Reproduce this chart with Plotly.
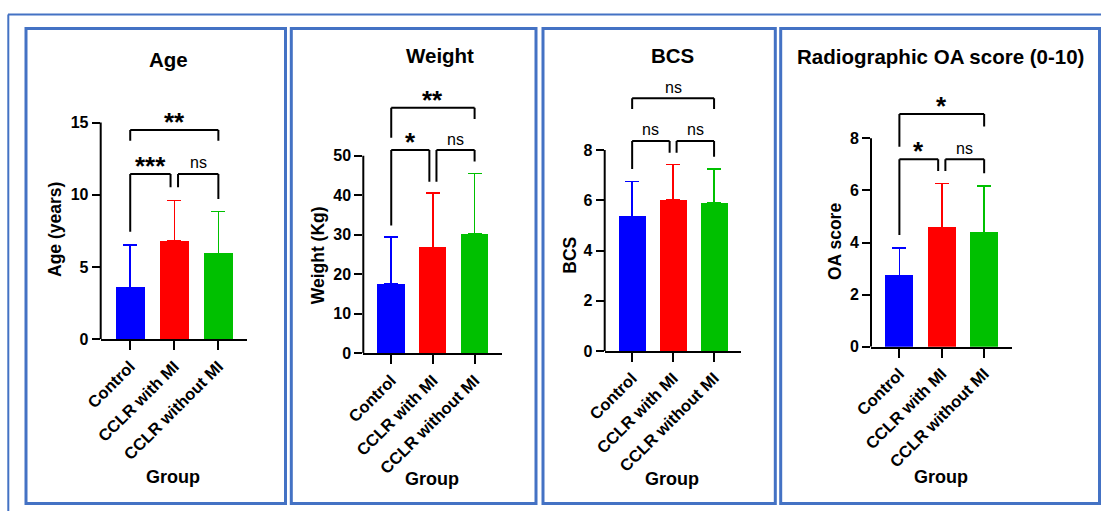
import plotly.graph_objects as go

W, H = 1101, 511

# ---------------- data ----------------
groups = ["Control", "CCLR with MI", "CCLR without MI"]

age_mean = [3.6, 6.8, 5.95]
age_sd = [2.93, 2.82, 2.88]
age_ticks = [0, 5, 10, 15]
age_sig = ["***", "ns", "**"]

weight_mean = [17.6, 26.8, 30.2]
weight_sd = [11.8, 13.8, 15.3]
weight_ticks = [0, 10, 20, 30, 40, 50]
weight_sig = ["*", "ns", "**"]

bcs_mean = [5.36, 6.01, 5.89]
bcs_sd = [1.38, 1.42, 1.35]
bcs_ticks = [0, 2, 4, 6, 8]
bcs_sig = ["ns", "ns", "ns"]

oa_mean = [2.74, 4.58, 4.39]
oa_sd = [1.05, 1.69, 1.78]
oa_ticks = [0, 2, 4, 6, 8]
oa_sig = ["*", "ns", "*"]

# bracket geometry (data units): (left group, right group, height, left leg end, right leg end)
age_brackets = [(0, 1, 11.44, 7.45, 10.52), (1, 2, 11.44, 10.52, 9.71), (0, 2, 14.49, 13.74, 13.74)]
weight_brackets = [(0, 1, 51.4, 32.3, 43.4), (1, 2, 51.4, 43.4, 48.5), (0, 2, 62.1, 54.5, 59.3)]
bcs_brackets = [(0, 1, 8.36, 7.24, 7.89), (1, 2, 8.36, 7.89, 7.73), (0, 2, 10.06, 9.63, 9.63)]
oa_brackets = [(0, 1, 7.2, 4.29, 6.74), (1, 2, 7.2, 6.74, 6.66), (0, 2, 8.93, 7.68, 8.45)]

colors = ["#0000FF", "#FF0000", "#00C000"]
FONT = "Arial, Liberation Sans, sans-serif"
BORDER = "#4472C4"

panels = [
    dict(title="Age", ytitle="Age (years)", mean=age_mean, sd=age_sd, ticks=age_ticks,
         sig=age_sig, br=age_brackets, px=(100.7, 247), y0=339.3, ppu=14.45,
         t_xy=(168.3, 59), yt_xy=(55, 230), g_xy=(173, 476.7), box=(26, 285.5)),
    dict(title="Weight", ytitle="Weight (Kg)", mean=weight_mean, sd=weight_sd, ticks=weight_ticks,
         sig=weight_sig, br=weight_brackets, px=(363.3, 501.7), y0=353.3, ppu=3.953,
         t_xy=(440, 55), yt_xy=(318.3, 255), g_xy=(431.7, 479), box=(291.3, 536)),
    dict(title="BCS", ytitle="BCS", mean=bcs_mean, sd=bcs_sd, ticks=bcs_ticks,
         sig=bcs_sig, br=bcs_brackets, px=(604.7, 740.7), y0=351, ppu=25.125,
         t_xy=(672.3, 55), yt_xy=(569.7, 255), g_xy=(672, 479), box=(543, 775.3)),
    dict(title="Radiographic OA score (0-10)", ytitle="OA score", mean=oa_mean, sd=oa_sd, ticks=oa_ticks,
         sig=oa_sig, br=oa_brackets, px=(871, 1011.7), y0=346.7, ppu=26.05,
         t_xy=(940.7, 56), yt_xy=(834.3, 241.7), g_xy=(940.7, 477.3), box=(780.7, 1099.5)),
]

TOP_PX = 70
XR = [-0.67, 2.65]
LEG_OFF = 0.085


def fx(px):
    return px / W


def fy(py):
    return 1 - py / H


fig = go.Figure()
shapes = []
annotations = []
layout = {}

for i, p in enumerate(panels, start=1):
    xa = "x" if i == 1 else f"x{i}"
    ya = "y" if i == 1 else f"y{i}"
    xkey = "xaxis" if i == 1 else f"xaxis{i}"
    ykey = "yaxis" if i == 1 else f"yaxis{i}"
    for j, g in enumerate(groups):
        fig.add_trace(go.Bar(
            x=[j], y=[p["mean"][j]], width=0.66, xaxis=xa, yaxis=ya,
            marker=dict(color=colors[j], line=dict(width=0)),
            error_y=dict(type="data", symmetric=False, array=[p["sd"][j]], arrayminus=[0],
                         color=colors[j], thickness=1.5, width=7),
            showlegend=False, hoverinfo="skip"))
    ytop = (p["y0"] - TOP_PX) / p["ppu"]
    layout[xkey] = dict(domain=[fx(p["px"][0]), fx(p["px"][1])], range=XR, anchor=ya,
                        automargin=False,
                        tickvals=list(range(len(groups))), ticktext=groups, tickangle=-45,
                        showline=True, linewidth=2, linecolor="black", ticks="outside",
                        ticklen=9, tickwidth=2, tickcolor="black", showgrid=False, zeroline=False,
                        tickfont=dict(family=FONT, size=16.5, color="black", weight="bold"))
    layout[ykey] = dict(domain=[fy(p["y0"]), fy(TOP_PX)], range=[0, ytop], anchor=xa,
                        automargin=False,
                        tickvals=p["ticks"], showline=False, ticks="outside", ticklen=8,
                        tickwidth=2, tickcolor="black", showgrid=False, zeroline=False,
                        tickfont=dict(family=FONT, size=16, color="black", weight="bold"))
    # y axis line up to last tick
    shapes.append(dict(type="line", xref=f"{xa} domain", yref=ya, x0=0, x1=0,
                       y0=0, y1=p["ticks"][-1], line=dict(color="black", width=2)))
    # brackets
    for (a, b, h, la, lb), lab in zip(p["br"], p["sig"]):
        xl = a + (LEG_OFF if a == 1 else 0)
        xr = b - (LEG_OFF if (b == 1) else 0)
        for (x0, y0, x1, y1) in [(xl, la, xl, h), (xl, h, xr, h), (xr, h, xr, lb)]:
            shapes.append(dict(type="line", xref=xa, yref=ya, x0=x0, y0=y0, x1=x1, y1=y1,
                               line=dict(color="black", width=2)))
        if lab == "ns":
            annotations.append(dict(xref=xa, yref=ya, x=(xl + xr) / 2, y=h, text="ns",
                                    showarrow=False, yanchor="middle", yshift=11,
                                    font=dict(family=FONT, size=16, color="black")))
        else:
            annotations.append(dict(xref=xa, yref=ya, x=(xl + xr) / 2, y=h, text=lab,
                                    showarrow=False, yanchor="middle", yshift=8,
                                    font=dict(family=FONT, size=26, color="black", weight="bold")))
    # titles
    annotations.append(dict(xref="paper", yref="paper", x=fx(p["t_xy"][0]), y=fy(p["t_xy"][1]),
                            text=p["title"], showarrow=False, xanchor="center", yanchor="middle",
                            font=dict(family=FONT, size=20.5, color="black", weight="bold")))
    annotations.append(dict(xref="paper", yref="paper", x=fx(p["yt_xy"][0]), y=fy(p["yt_xy"][1]),
                            text=p["ytitle"], showarrow=False, textangle=-90, xanchor="center",
                            yanchor="middle",
                            font=dict(family=FONT, size=17.5, color="black", weight="bold")))
    annotations.append(dict(xref="paper", yref="paper", x=fx(p["g_xy"][0]), y=fy(p["g_xy"][1]),
                            text="Group", showarrow=False, xanchor="center", yanchor="middle",
                            font=dict(family=FONT, size=18, color="black", weight="bold")))
    # panel border
    shapes.append(dict(type="rect", xref="paper", yref="paper", x0=fx(p["box"][0]), x1=fx(p["box"][1]),
                       y0=fy(503.5), y1=fy(28.5), line=dict(color=BORDER, width=3)))

# outer frame lines
shapes.append(dict(type="line", xref="paper", yref="paper", x0=fx(8), x1=1.0, y0=fy(14.5), y1=fy(14.5),
                   line=dict(color=BORDER, width=2)))
shapes.append(dict(type="line", xref="paper", yref="paper", x0=fx(8.3), x1=fx(8.3), y0=0, y1=fy(14.5),
                   line=dict(color=BORDER, width=2)))

fig.update_layout(width=W, height=H, margin=dict(l=0, r=0, t=0, b=0, autoexpand=False), autosize=False,
                  paper_bgcolor="white", plot_bgcolor="white", showlegend=False,
                  shapes=shapes, annotations=annotations, bargap=0, **layout)

fig.write_html("out.html")
